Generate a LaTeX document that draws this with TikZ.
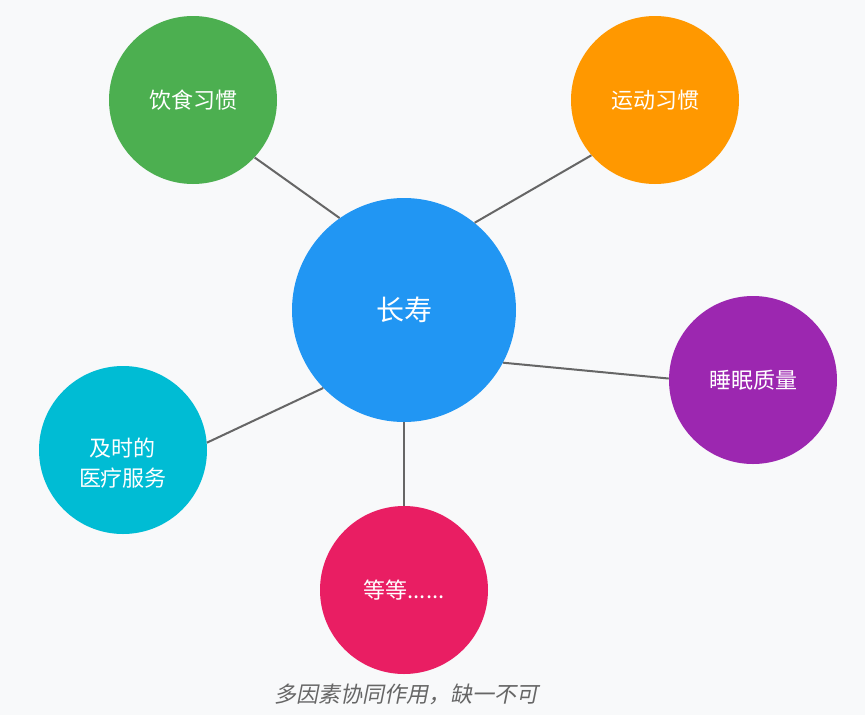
\documentclass[tikz,border=0pt]{standalone}
\usepackage{fontspec}
\setmainfont{Noto Sans CJK SC}
\newfontfamily\penche[FakeSlant=0.2]{Noto Sans CJK SC}
\definecolor{fond}{HTML}{F8F9FA}
\definecolor{bleu}{HTML}{2196F3}
\definecolor{vert}{HTML}{4CAF50}
\definecolor{orange}{HTML}{FF9800}
\definecolor{violet}{HTML}{9C27B0}
\definecolor{cyan}{HTML}{00BCD4}
\definecolor{rose}{HTML}{E91E63}
\definecolor{trait}{HTML}{666666}
\begin{document}
\begin{tikzpicture}[x=0.75pt,y=-0.75pt,
        bulle/.style={circle,minimum size=126pt,inner sep=0pt,text=white,align=center,
            font=\fontsize{16.5}{22}\selectfont},
        lien/.style={draw=trait,line width=1.5pt}]
            \fill[fond] (0,0) rectangle (865,715);
            % le centre et les cinq facteurs
            \node[bulle,fill=bleu,minimum size=168pt,font=\fontsize{21}{26}\selectfont] (c) at (404,310) {长寿};
            \node[bulle,fill=vert] (g) at (193,100) {饮食习惯};
            \node[bulle,fill=orange] (o) at (655,100) {运动习惯};
            \node[bulle,fill=violet] (p) at (753,380) {睡眠质量};
            \node[bulle,fill=cyan,label={[text=white,align=center,yshift=-10pt,font=\fontsize{16.5}{22.5}\selectfont]center:及时的\\医疗服务}] (m) at (123,450) {};
            \node[bulle,fill=rose] (e) at (404,590) {等等......};
            % les liens
            \draw[lien] (c.125) -- (g.-43);
            \draw[lien] (c.51) -- (o.221);
            \draw[lien] (c.-28) -- (p.179);
            \draw[lien] (c.224) -- (m.5);
            \draw[lien] (c.270) -- (e.90);
            \node[text=trait,font=\penche\fontsize{16.5}{20}\selectfont] (legende) at (406,694) {多因素协同作用，缺一不可};
        \end{tikzpicture}
\end{document}
